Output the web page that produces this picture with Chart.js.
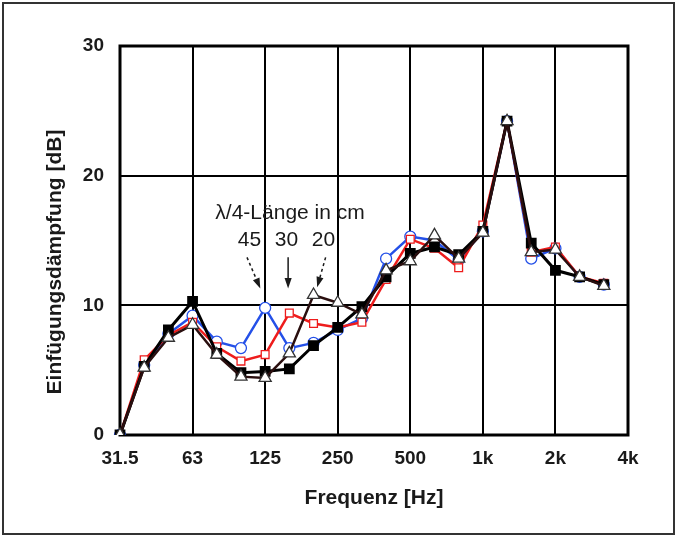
<!DOCTYPE html>
<html lang="de">
<head>
    <meta charset="UTF-8">
    <title>Einfügungsdämpfung</title>
    <script src="https://cdn.jsdelivr.net/npm/chart.js"></script>
    <style>
        html, body { margin: 0; padding: 0; background: #fff; }
        canvas { display: block; }
    </style>
</head>
<body>
    <canvas id="chart" width="677" height="537"></canvas>

    <script>
        // third-octave bands, only every third one gets a label / grid line
        const bands = ['31.5', '40', '50', '63', '80', '100', '125', '160', '200', '250', '315',
                       '400', '500', '630', '800', '1k', '1.25k', '1.6k', '2k', '2.5k', '3.15k', '4k'];
        const yTicks = [0, 10, 20, 30];

        // Einfügungsdämpfung in dB
        const ohneResonator = [0, 5.3, 8.1, 10.3, 6.3, 4.8, 4.9, 5.1, 6.9, 8.3, 9.9, 12.2, 14.0, 14.5, 13.9, 15.7, 24.2, 14.8, 12.7, 12.2, 11.6];
        const laenge45 = [0, 5.4, 7.8, 9.2, 7.2, 6.7, 9.8, 6.7, 7.1, 8.1, 9.0, 13.6, 15.3, 15.0, 13.5, 15.7, 24.2, 13.6, 14.4, 12.2, 11.6];
        const laenge30 = [0, 5.8, 7.7, 8.7, 6.8, 5.7, 6.2, 9.4, 8.6, 8.3, 8.7, 12.0, 15.1, 14.4, 12.9, 16.2, 24.2, 14.1, 14.5, 12.2, 11.7];
        const laenge20 = [0, 5.2, 7.5, 8.5, 6.2, 4.5, 4.4, 6.3, 10.8, 10.2, 9.3, 12.7, 13.4, 15.4, 13.6, 15.6, 24.2, 14.1, 14.3, 12.2, 11.5];

        const textColor = '#1a1a1a';
        const fontFamily = "'Liberation Sans', Arial, sans-serif";

        function arrow(ctx, x1, y1, x2, y2, dashed) {
            const ang = Math.atan2(y2 - y1, x2 - x1);
            const head = 11;
            ctx.save();
            ctx.strokeStyle = textColor;
            ctx.fillStyle = textColor;
            ctx.lineWidth = 1.5;
            ctx.setLineDash(dashed ? [3, 3] : []);
            ctx.beginPath();
            ctx.moveTo(x1, y1);
            ctx.lineTo(x2 - Math.cos(ang) * head * 0.8, y2 - Math.sin(ang) * head * 0.8);
            ctx.stroke();
            ctx.setLineDash([]);
            ctx.beginPath();
            ctx.moveTo(x2, y2);
            ctx.lineTo(x2 - head * Math.cos(ang - 0.33), y2 - head * Math.sin(ang - 0.33));
            ctx.lineTo(x2 - head * Math.cos(ang + 0.33), y2 - head * Math.sin(ang + 0.33));
            ctx.closePath();
            ctx.fill();
            ctx.restore();
        }

        const extras = {
            id: 'extras',
            beforeDraw(chart) {
                const ctx = chart.ctx;
                ctx.save();
                ctx.fillStyle = '#fff';
                ctx.fillRect(0, 0, chart.width, chart.height);
                ctx.strokeStyle = '#333';
                ctx.lineWidth = 2;
                ctx.strokeRect(3, 3, chart.width - 6, chart.height - 6);
                // y title, sits a bit below the middle of the plot in the original
                ctx.translate(55, 262);
                ctx.rotate(-Math.PI / 2);
                ctx.fillStyle = textColor;
                ctx.font = 'bold 21px ' + fontFamily;
                ctx.textAlign = 'center';
                ctx.textBaseline = 'middle';
                ctx.fillText('Einfügungsdämpfung [dB]', 0, 0);
                ctx.restore();
            },
            beforeDatasetsDraw(chart) {
                const { ctx, chartArea: a } = chart;
                ctx.save();
                ctx.strokeStyle = '#000';
                ctx.lineWidth = 3;
                ctx.strokeRect(a.left, a.top, a.right - a.left, a.bottom - a.top);
                ctx.restore();
            },
            afterDatasetsDraw(chart) {
                const ctx = chart.ctx;
                const x = chart.scales.x, y = chart.scales.y;
                const px = v => x.getPixelForValue(v);
                const py = v => y.getPixelForValue(v);
                ctx.save();
                ctx.fillStyle = textColor;
                ctx.font = '21px ' + fontFamily;
                ctx.textAlign = 'center';
                ctx.textBaseline = 'middle';
                ctx.fillText('\u03bb/4-Länge in cm', px(7.03), py(17.1));
                ctx.fillText('45', px(5.35), py(15.0));
                ctx.fillText('30', px(6.88), py(15.0));
                ctx.fillText('20', px(8.41), py(15.0));
                ctx.restore();
                arrow(ctx, px(5.25), py(13.7), px(5.8), py(11.3), true);
                arrow(ctx, px(6.95), py(13.7), px(6.95), py(11.3), false);
                arrow(ctx, px(8.5), py(13.7), px(8.15), py(11.4), true);
            }
        };

        new Chart(document.getElementById('chart'), {
            type: 'line',
            data: {
                labels: bands,
                datasets: [
                    {
                        label: '20 cm',
                        data: laenge20,
                        borderColor: '#2a0f0f',
                        borderWidth: 2.5,
                        pointStyle: 'triangle',
                        pointRadius: 7,
                        pointBorderWidth: 1.3,
                        pointBackgroundColor: '#fff',
                        pointBorderColor: '#333'
                    },
                    {
                        label: 'ohne',
                        data: ohneResonator,
                        borderColor: '#000',
                        borderWidth: 3,
                        pointStyle: 'rect',
                        pointRadius: 5.5,
                        pointBackgroundColor: '#000',
                        pointBorderColor: '#000'
                    },
                    {
                        label: '30 cm',
                        data: laenge30,
                        borderColor: '#ee1c1c',
                        borderWidth: 2.5,
                        pointStyle: 'rect',
                        pointRadius: 5.5,
                        pointBorderWidth: 1.3,
                        pointBackgroundColor: '#fff',
                        pointBorderColor: '#ee1c1c'
                    },
                    {
                        label: '45 cm',
                        data: laenge45,
                        borderColor: '#2450e8',
                        borderWidth: 2.5,
                        pointStyle: 'circle',
                        pointRadius: 5.5,
                        pointBorderWidth: 1.3,
                        pointBackgroundColor: '#fff',
                        pointBorderColor: '#2450e8'
                    }
                ]
            },
            options: {
                responsive: false,
                animation: false,
                layout: { padding: { left: 0, top: 46, right: 49, bottom: 0 } },
                plugins: {
                    legend: { display: false },
                    tooltip: { enabled: false }
                },
                scales: {
                    x: {
                        type: 'category',
                        offset: false,
                        afterFit: s => { s.height = 102; },
                        grid: {
                            color: c => (c.index % 3 === 0 ? '#000' : 'rgba(0,0,0,0)'),
                            lineWidth: 2,
                            drawTicks: false
                        },
                        border: { display: false },
                        ticks: {
                            autoSkip: false,
                            maxRotation: 0,
                            padding: 12,
                            color: textColor,
                            font: { family: fontFamily, size: 19, weight: 'bold' },
                            callback: (v, i) => (i % 3 === 0 ? bands[i] : '')
                        },
                        title: {
                            display: true,
                            text: 'Frequenz [Hz]',
                            color: textColor,
                            font: { family: fontFamily, size: 21, weight: 'bold' },
                            padding: { top: 0, bottom: 26 }
                        }
                    },
                    y: {
                        min: 0,
                        max: 30,
                        afterFit: s => { s.width = 120; },
                        afterBuildTicks: s => { s.ticks = yTicks.map(v => ({ value: v })); },
                        grid: { color: '#000', lineWidth: 2, drawTicks: false },
                        border: { display: false },
                        ticks: {
                            padding: 16,
                            color: textColor,
                            font: { family: fontFamily, size: 19, weight: 'bold' }
                        }
                    }
                }
            },
            plugins: [extras]
        });
    </script>
</body>
</html>
